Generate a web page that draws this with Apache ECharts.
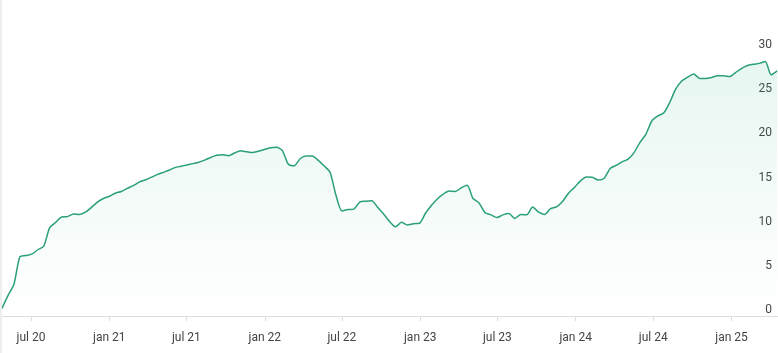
<!DOCTYPE html>
<html>
<head>
<meta charset="utf-8">
<script src="https://cdn.jsdelivr.net/npm/echarts@6/dist/echarts.min.js"></script>
<style>
html,body{margin:0;padding:0;background:#fff;}
#chart{width:778px;height:353px;}
</style>
</head>
<body>
<div id="chart"></div>
<script>
// Series: one value every 14 days starting at startDate
const startDate = '2020-04-24';
const stepDays = 14;
const values = [
  0.87, 2.3, 3.6, 6.7, 6.85, 7.0, 7.5, 7.9, 10.0, 10.6,
  11.2, 11.25, 11.55, 11.5, 11.75, 12.3, 12.9, 13.3, 13.55, 13.9,
  14.1, 14.45, 14.75, 15.15, 15.4, 15.7, 16.0, 16.25, 16.5, 16.8,
  16.95, 17.1, 17.25, 17.4, 17.65, 17.95, 18.2, 18.25, 18.15, 18.45,
  18.7, 18.6, 18.5, 18.65, 18.85, 19.05, 19.1, 18.75, 17.2, 17.0,
  17.8, 18.1, 18.1, 17.65, 17.0, 16.3, 13.7, 11.9, 12.05, 12.1,
  12.9, 13.0, 13.05, 12.3, 11.55, 10.7, 10.1, 10.6, 10.3, 10.45,
  10.5, 11.6, 12.5, 13.25, 13.8, 14.15, 14.1, 14.5, 14.8, 13.3,
  12.8, 11.7, 11.45, 11.15, 11.45, 11.6, 11.05, 11.5, 11.45, 12.35,
  11.75, 11.5, 12.15, 12.35, 12.95, 13.9, 14.55, 15.3, 15.75, 15.7,
  15.4, 15.6, 16.7, 17.05, 17.45, 17.75, 18.5, 19.65, 20.6, 22.1,
  22.65, 23.0, 24.2, 25.7, 26.6, 27.05, 27.4, 26.9, 26.9, 27.0,
  27.2, 27.2, 27.1, 27.55, 28.0, 28.35, 28.5, 28.6, 28.8, 27.3,
  27.75
];
const axisMin = '2020-04-24';
const axisMax = '2025-04-20';
const tickDates = ['2020-07-01','2021-01-01','2021-07-01','2022-01-01','2022-07-01',
                   '2023-01-01','2023-07-01','2024-01-01','2024-07-01','2025-01-01'];
const tickLabels = ['jul 20','jan 21','jul 21','jan 22','jul 22',
                    'jan 23','jul 23','jan 24','jul 24','jan 25'];
const yTicks = [0, 5, 10, 15, 20, 25, 30];

function toTime(s){ return new Date(s + 'T00:00:00').getTime(); }
const DAY = 24*3600*1000;
const t0 = toTime(startDate);
const seriesData = values.map((v, i) => [t0 + i*stepDays*DAY, v]);
const tickTimes = tickDates.map(toTime);

const chart = echarts.init(document.getElementById('chart'));
chart.setOption({
  animation: false,
  backgroundColor: '#ffffff',
  textStyle: {fontFamily: 'Roboto, sans-serif'},
  graphic: [{
    type: 'rect', left: 0, top: 0, z: 100,
    shape: {width: 2, height: 353},
    style: {fill: '#eeeeee'}
  }],
  grid: {left: 2, right: 0, top: 51, bottom: 37, containLabel: false},
  xAxis: {
    type: 'value',
    min: toTime(axisMin),
    max: toTime(axisMax),
    axisLine: {show: true, lineStyle: {color: '#dddddd', width: 1}},
    axisTick: {show: true, length: 5, customValues: tickTimes, lineStyle: {color: '#dddddd'}},
    splitLine: {show: false},
    axisLabel: {
      customValues: tickTimes,
      margin: 16,
      color: '#444444',
      fontSize: 12,
      fontFamily: 'Roboto, sans-serif',
      formatter: function (val) {
        let best = 0, bd = Infinity;
        tickTimes.forEach((t, i) => { const d = Math.abs(t - val); if (d < bd) { bd = d; best = i; } });
        return tickLabels[best];
      }
    }
  },
  yAxis: {
    type: 'value',
    position: 'right',
    min: yTicks[0],
    max: yTicks[yTicks.length - 1],
    interval: 5,
    axisLine: {show: false},
    axisTick: {show: false},
    splitLine: {show: false},
    axisLabel: {
      inside: true,
      margin: 6,
      color: '#444444',
      fontSize: 12,
      fontFamily: 'Roboto, sans-serif',
      verticalAlign: 'bottom',
      lineHeight: 12
    }
  },
  series: [{
    type: 'line',
    data: seriesData,
    showSymbol: false,
    smooth: 0.25,
    lineStyle: {color: '#2a9f7c', width: 1.5},
    itemStyle: {color: '#2a9f7c'},
    areaStyle: {
      color: new echarts.graphic.LinearGradient(0, 0, 0, 1, [
        {offset: 0, color: 'rgba(42,178,130,0.16)'},
        {offset: 1, color: 'rgba(42,178,130,0.0)'}
      ])
    }
  }]
});
</script>
</body>
</html>
